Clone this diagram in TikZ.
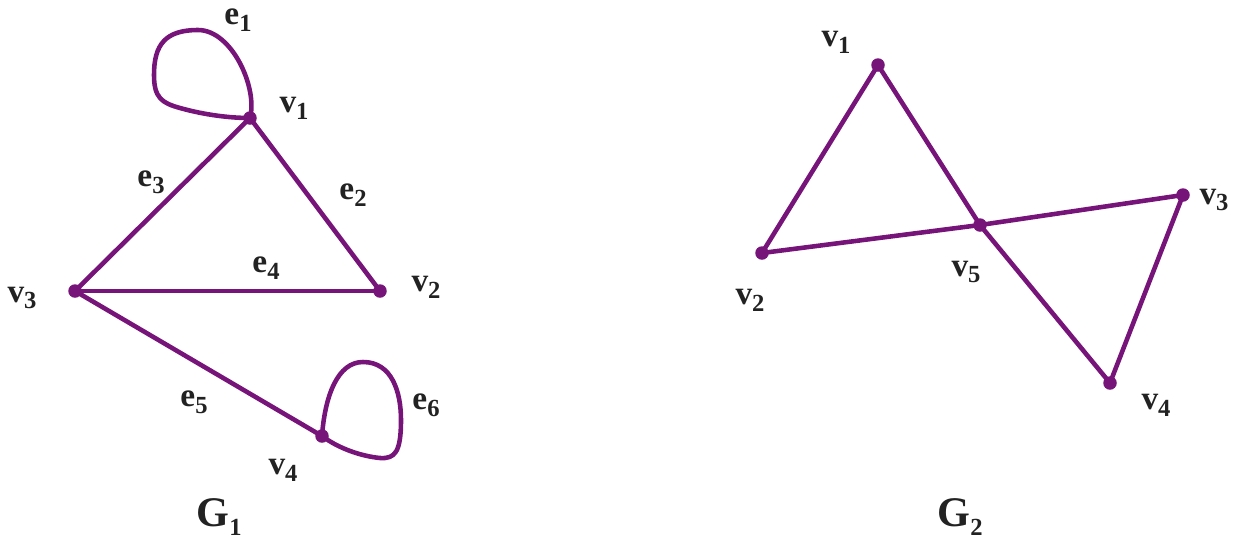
\documentclass[tikz,border=0pt]{standalone}
\usepackage{fontspec}
\setmainfont{Liberation Serif}
\definecolor{edgepurple}{RGB}{118,20,122}
\definecolor{labgray}{RGB}{34,34,34}
\newcommand{\glab}[2]{#1\raisebox{-0.45ex}{\fontsize{14}{14}\selectfont #2}}
\tikzset{
  vtx/.style={circle,fill=edgepurple,inner sep=0pt,minimum size=0.27cm},
  edge/.style={draw=edgepurple,line width=2.6pt,line cap=round,line join=round},
  lbl/.style={text=labgray,font=\fontsize{19}{22}\selectfont\bfseries,inner sep=0pt},
  glbl/.style={text=labgray,font=\fontsize{24}{28}\selectfont\bfseries,inner sep=0pt}
}
\begin{document}
\begin{tikzpicture}[x=0.02cm,y=-0.02cm]
\useasboundingbox (0,0) rectangle (1242,542);
% G1 vertices
\node[vtx] (a1) at (250,118) {};
\node[vtx] (a2) at (380,291) {};
\node[vtx] (a3) at (75,291) {};
\node[vtx] (a4) at (322,436) {};
\draw[edge] (a1.center) -- (a2.center);
\draw[edge] (a1.center) -- (a3.center);
\draw[edge] (a3.center) -- (a2.center);
\draw[edge] (a3.center) -- (a4.center);
% loop e1
\draw[edge] (a1.center) .. controls (258,88) and (232,30) .. (198,30)
  .. controls (165,30) and (154,45) .. (154,75)
  .. controls (154,98) and (162,103) .. (180,108)
  .. controls (205,115) and (230,118) .. (a1.center);
% loop e6
\draw[edge] (a4.center) .. controls (325,395) and (338,362) .. (363,362)
  .. controls (392,362) and (401,392) .. (401,420)
  .. controls (401,452) and (395,459) .. (380,458)
  .. controls (360,456) and (338,448) .. (a4.center);
% G1 labels
\node[lbl] (le1) at (238,20) {\glab{e}{1}};
\node[lbl] (lv1) at (294,108) {\glab{v}{1}};
\node[lbl] (le3) at (151,182) {\glab{e}{3}};
\node[lbl] (le2) at (353,195) {\glab{e}{2}};
\node[lbl] (le4) at (266,268) {\glab{e}{4}};
\node[lbl] (lv2) at (426,287) {\glab{v}{2}};
\node[lbl] (lv3) at (22,298) {\glab{v}{3}};
\node[lbl] (le5) at (194,402) {\glab{e}{5}};
\node[lbl] (le6) at (426,405) {\glab{e}{6}};
\node[lbl] (lv4) at (283,470) {\glab{v}{4}};
\node[glbl] (lg1) at (219,517) {\glab{G}{1}};
% G2 vertices
\node[vtx] (b1) at (878,65) {};
\node[vtx] (b2) at (762,253) {};
\node[vtx] (b3) at (1183,195) {};
\node[vtx] (b4) at (1110,383) {};
\node[vtx] (b5) at (980,225) {};
\draw[edge] (b1.center) -- (b2.center);
\draw[edge] (b1.center) -- (b5.center);
\draw[edge] (b2.center) -- (b5.center);
\draw[edge] (b5.center) -- (b3.center);
\draw[edge] (b5.center) -- (b4.center);
\draw[edge] (b3.center) -- (b4.center);
% G2 labels
\node[lbl] (mv1) at (836,42) {\glab{v}{1}};
\node[lbl] (mv2) at (750,300) {\glab{v}{2}};
\node[lbl] (mv5) at (966,272) {\glab{v}{5}};
\node[lbl] (mv3) at (1214,200) {\glab{v}{3}};
\node[lbl] (mv4) at (1156,405) {\glab{v}{4}};
\node[glbl] (lg2) at (960,517) {\glab{G}{2}};
\end{tikzpicture}
\end{document}
